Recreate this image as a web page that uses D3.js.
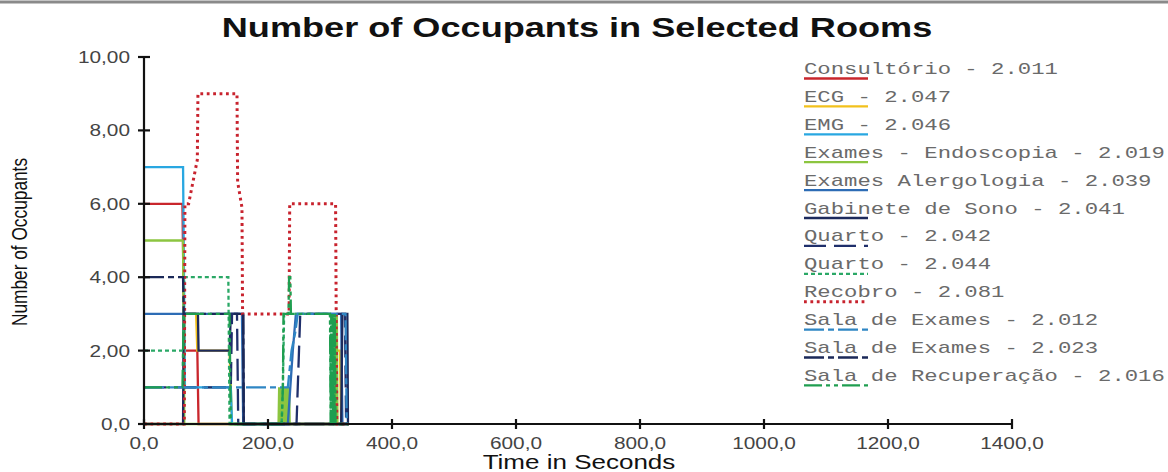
<!DOCTYPE html>
<html><head><meta charset="utf-8">
<script src="https://cdn.jsdelivr.net/npm/d3@7"></script>
<style>body{margin:0;background:#fff}svg{display:block}</style>
</head><body>
<script>
// ---- data ----
const xTickValues = [0,200,400,600,800,1000,1200,1400];
const xTickLabels = ["0,0","200,0","400,0","600,0","800,0","1000,0","1200,0","1400,0"];
const yTickValues = [0,2,4,6,8,10];
const yTickLabels = ["0,0","2,00","4,00","6,00","8,00","10,00"];
const seriesNames = ["Consultório - 2.011","ECG - 2.047","EMG - 2.046","Exames - Endoscopia - 2.019","Exames Alergologia - 2.039","Gabinete de Sono - 2.041","Quarto - 2.042","Quarto - 2.044","Recobro - 2.081","Sala de Exames - 2.012","Sala de Exames - 2.023","Sala de Recuperação - 2.016"];
const consultorio = [[0,6],[62,6],[65,2],[86,2],[88,0],[330,0]];
const ecg = [[0,0],[64,0],[66,3],[84,3],[86,2],[138,2],[142,0],[306,0],[308,2],[316,2],[318,0],[330,0]];
const emg = [[0,7],[63,7],[66,1],[140,1],[142,0],[330,0]];
const endoscopia = [[0,5],[63,5],[65,0],[217,0],[218,1],[219,0],[220,1],[221,0],[222,1],[223,0],[224,1],[225,0],[226,1],[227,0],[228,1],[229,0],[230,1],[231,0],[232,1],[233,0],[234,1],[235,0],[308,0],[309,3],[310,0],[311,3],[312,0],[330,0]];
const alergologia = [[0,3],[158,3],[160,0],[232,0],[236,1],[240,2],[245,3],[318,3],[320,0],[330,0]];
const gabinete = [[0,0],[63,0],[64,3],[87,3],[88,2],[138,2],[140,3],[160,3],[161,0],[318,0],[320,3],[328,3],[329,0]];
const quarto042 = [[0,1],[140,1],[142,3],[150,3],[152,0],[246,0],[248,1],[250,2],[252,3],[324,3],[326,0],[330,0]];
const quarto044 = [[0,2],[63,2],[65,4],[136,4],[138,0],[222,0],[224,1],[226,3],[300,3],[302,0],[330,0]];
const recobro = [[0,0],[65,0],[66,6],[72,6],[86,7.2],[87,9],[150,9],[151,6.6],[158,5.9],[159,3],[234,3],[235,6],[309,6],[311,0],[330,0]];
const salaExames012 = [[0,1],[232,1],[235,1.5],[238,2],[244,2.5],[248,3],[325,3],[327,0]];
const salaExames023 = [[0,4],[63,4],[64,3],[160,3],[161,0],[330,0]];
const salaRecuperacao = [[0,1],[62,1],[64,3],[138,3],[140,0],[222,0],[224,1],[225,3],[233,3],[234,4],[236,4],[237,3],[300,3],[301,0],[302,3],[303,0],[304,3],[305,0],[306,3],[307,0],[308,3],[309,0],[330,0]];
const seriesData = [consultorio,ecg,emg,endoscopia,alergologia,gabinete,quarto042,quarto044,recobro,salaExames012,salaExames023,salaRecuperacao];
const colors = ["#c9262c","#f2c11c","#29a7e1","#8cc540","#2d6cb5","#1c2a5c","#1f2f6b","#2aa866","#c8232e","#2f86c4","#1b2958","#1f9e50"];
const dashes = [null,null,null,null,null,null,"22,8","4,3","2.8,3.6","20,4,6,4","20,4,6,4","18,4,4,4,4,4"];
const widths = [2.3,2.3,2.3,2.3,2.3,2.3,2.3,2.3,3,2.3,2.3,2.3];

const W=1168,H=472, STR=1.3;
const svg = d3.select("body").append("svg").attr("width",W).attr("height",H)
  .style("font-family","'Liberation Sans', Arial, sans-serif");
svg.append("line").attr("x1",0).attr("x2",W).attr("y1",2).attr("y2",2).attr("stroke","#8a8a8a").attr("stroke-width",3);

const x = d3.scaleLinear().domain([0,1400]).range([144,1012]);
const y = d3.scaleLinear().domain([0,10]).range([424,57]);

function stretch(sel,f){ sel.each(function(){ const l=this.getComputedTextLength(); d3.select(this).attr("textLength",l*f).attr("lengthAdjust","spacingAndGlyphs");}); return sel; }

// title
stretch(svg.append("text").attr("x",577).attr("y",37).attr("text-anchor","middle")
  .attr("font-size",28).attr("font-weight","bold").attr("fill","#111")
  .text("Number of Occupants in Selected Rooms"), 1.29);

// lines
const line = d3.line().x(d=>x(d[0])).y(d=>y(d[1]));
const g = svg.append("g");
seriesData.forEach((s,i)=>{
  g.append("path").datum(s).attr("d",line).attr("fill","none")
   .attr("stroke",colors[i]).attr("stroke-width",widths[i])
   .attr("stroke-dasharray",dashes[i]);
});

// axes
const ax = svg.append("g").attr("stroke","#111").attr("stroke-width",2.2);
ax.append("line").attr("x1",x(0)).attr("x2",x(0)).attr("y1",y(10)).attr("y2",y(0));
ax.append("line").attr("x1",x(0)).attr("x2",x(1400)).attr("y1",y(0)).attr("y2",y(0));
ax.selectAll(".yt").data(yTickValues).join("line").attr("x1",x(0)-6).attr("x2",x(0)+6).attr("y1",d=>y(d)).attr("y2",d=>y(d));
ax.selectAll(".xt").data(xTickValues).join("line").attr("x1",d=>x(d)).attr("x2",d=>x(d)).attr("y1",y(0)-5).attr("y2",y(0)+5);

stretch(svg.selectAll(".ytl").data(yTickValues).join("text").attr("x",x(0)-14).attr("y",d=>y(d)+6)
  .attr("text-anchor","end").attr("font-size",16).attr("fill","#444").text((d,i)=>yTickLabels[i]), STR);
stretch(svg.selectAll(".xtl").data(xTickValues).join("text").attr("x",d=>x(d)).attr("y",y(0)+25)
  .attr("text-anchor","middle").attr("font-size",16).attr("fill","#444").text((d,i)=>xTickLabels[i]), STR);

// axis titles
stretch(svg.append("text").attr("x",579).attr("y",469).attr("text-anchor","middle")
  .attr("font-size",20).attr("fill","#111").text("Time in Seconds"), STR);
svg.append("text").attr("transform","translate(27,242) rotate(-90) scale(1,1.3)")
  .attr("text-anchor","middle").attr("font-size",17.3).attr("fill","#111").text("Number of Occupants");

// legend
const lg = svg.append("g").attr("transform","translate(804,0)");
seriesNames.forEach((n,i)=>{
  const cy = 69 + i*27.9;
  stretch(lg.append("text").attr("x",0).attr("y",cy+5).attr("font-size",17)
    .attr("font-family","'Liberation Mono','Courier New',monospace").attr("fill","#6a6a6a").text(n), 1.31);
  lg.append("line").attr("x1",0).attr("x2",64).attr("y1",cy+9.5).attr("y2",cy+9.5)
    .attr("stroke",colors[i]).attr("stroke-width",widths[i]).attr("stroke-dasharray",dashes[i]);
});
</script>
</body></html>
